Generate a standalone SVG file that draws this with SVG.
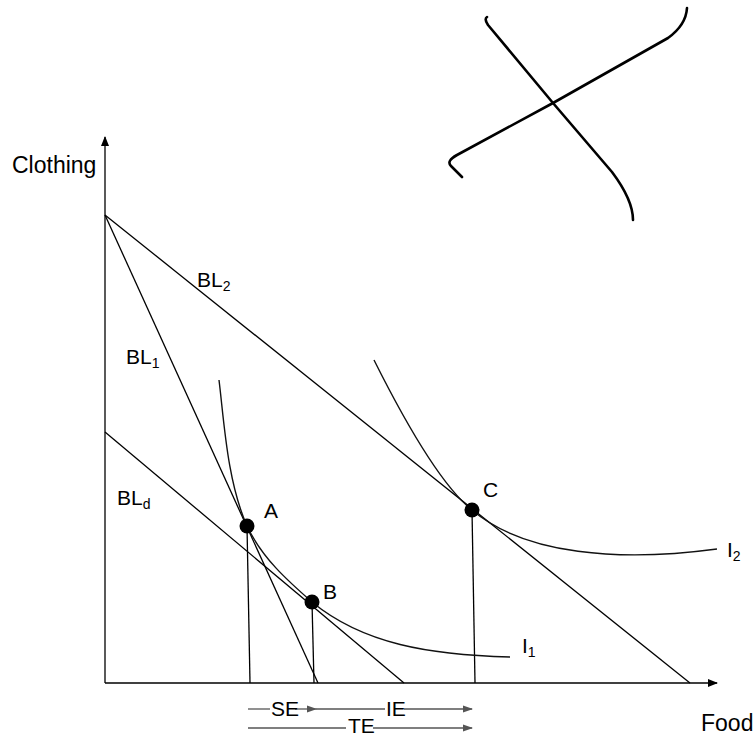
<svg xmlns="http://www.w3.org/2000/svg" width="755" height="737" viewBox="0 0 755 737">
<defs>
<marker id="ah" markerWidth="10" markerHeight="8" refX="9" refY="4" orient="auto" markerUnits="userSpaceOnUse">
<path d="M0,0 L10,4 L0,8 Z" fill="#000"/>
</marker>
<marker id="gh" markerWidth="10" markerHeight="8" refX="9" refY="4" orient="auto" markerUnits="userSpaceOnUse">
<path d="M0,0.5 L10,4 L0,7.5 Z" fill="#555"/>
</marker>
</defs>
<style>
.ln{stroke:#000;stroke-width:1.3;fill:none}
.cv{stroke:#111;stroke-width:1.4;fill:none}
.gl{stroke:#555;stroke-width:1.3;fill:none}
.hand{stroke:#000;stroke-width:2.6;fill:none;stroke-linecap:round;stroke-linejoin:round}
text{font-family:"Liberation Sans",Arial,sans-serif;fill:#000}
.lb{font-size:21px}
.sub{font-size:14px}
.ax{font-size:23px}
.dot{fill:#000}
</style>
<rect width="755" height="737" fill="#fff"/>
<g id="scribble">
<path class="hand" d="M487,17 Q484,19 488,25 L553,103 L612,172 Q633,200 633,220"/>
<path class="hand" d="M687,8 Q686,25 668,38 L553,103 L457,155 Q446,161 451,166 L462,177"/>
</g>
<g id="connectors">
<line class="ln" x1="105" y1="683" x2="105" y2="137" marker-end="url(#ah)"/>
<line class="ln" x1="105" y1="683" x2="717" y2="683" marker-end="url(#ah)"/>
<line id="bl1" class="ln" x1="105" y1="215" x2="318" y2="683"/>
<line id="bl2" class="ln" x1="105" y1="215" x2="690" y2="683"/>
<line id="bld" class="ln" x1="105" y1="432" x2="404" y2="683"/>
<line class="ln" x1="247" y1="526" x2="250" y2="683"/>
<line class="ln" x1="312" y1="602" x2="314" y2="683"/>
<line class="ln" x1="472" y1="510" x2="475" y2="683"/>
<path id="i1" class="cv" d="M219,380 C224,420 227,481 247,526 C262,558 288,581 312,602 C363,644 430,655 510,657"/>
<path id="i2" class="cv" d="M374,360 C394,400 437,482 472,510 C525,555 620,562 717,549"/>
<line class="gl" x1="248" y1="709" x2="270" y2="709"/>
<line class="gl" x1="295" y1="709" x2="316" y2="709" marker-end="url(#gh)"/>
<line class="gl" x1="316" y1="709" x2="385" y2="709"/>
<line class="gl" x1="404" y1="709" x2="472" y2="709" marker-end="url(#gh)"/>
<line class="gl" x1="248" y1="728" x2="346" y2="728"/>
<line class="gl" x1="373" y1="728" x2="472" y2="728" marker-end="url(#gh)"/>
</g>
<g id="A"><circle class="dot" cx="247" cy="526" r="7.5"/><text class="lb" x="264" y="518">A</text></g>
<g id="B"><circle class="dot" cx="312" cy="602" r="7.5"/><text class="lb" x="323" y="599">B</text></g>
<g id="C"><circle class="dot" cx="472" cy="510" r="7.5"/><text class="lb" x="483" y="497">C</text></g>
<g id="labels">
<text class="ax" x="12" y="173">Clothing</text>
<text class="ax" x="701" y="731">Food</text>
<text class="lb" x="197" y="287">BL<tspan class="sub" dy="4">2</tspan></text>
<text class="lb" x="126" y="364">BL<tspan class="sub" dy="4">1</tspan></text>
<text class="lb" x="117" y="505">BL<tspan class="sub" dy="4">d</tspan></text>
<text class="lb" x="522" y="653">I<tspan class="sub" dy="4">1</tspan></text>
<text class="lb" x="727" y="557">I<tspan class="sub" dy="4">2</tspan></text>
<text class="lb" x="271" y="716">SE</text>
<text class="lb" x="386" y="716">IE</text>
<text class="lb" font-size="19" x="348" y="733">TE</text>
</g>
</svg>
